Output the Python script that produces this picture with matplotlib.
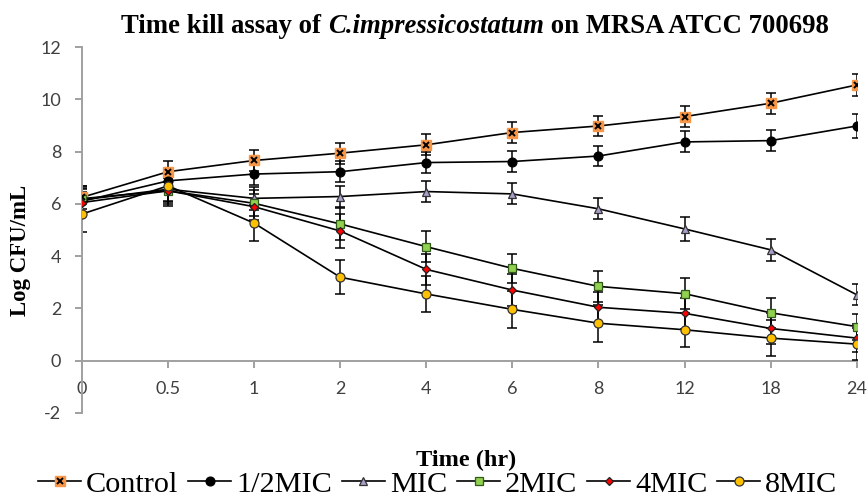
import matplotlib
matplotlib.use('Agg')
import matplotlib.pyplot as plt
from matplotlib.legend_handler import HandlerTuple

plt.rcParams['axes.unicode_minus'] = False

# 数据
time_labels = ['0', '0.5', '1', '2', '4', '6', '8', '12', '18', '24']

control = [6.25, 7.23, 7.66, 7.94, 8.26, 8.73, 8.98, 9.34, 9.85, 10.55]
half_mic = [6.10, 6.88, 7.14, 7.23, 7.58, 7.62, 7.83, 8.37, 8.42, 8.98]
mic = [6.15, 6.56, 6.21, 6.28, 6.47, 6.38, 5.81, 5.04, 4.24, 2.52]
mic2 = [6.20, 6.50, 6.02, 5.23, 4.36, 3.53, 2.84, 2.56, 1.83, 1.30]
mic4 = [6.05, 6.50, 5.89, 4.96, 3.49, 2.70, 2.04, 1.81, 1.23, 0.86]
mic8 = [5.61, 6.69, 5.26, 3.19, 2.55, 1.96, 1.43, 1.18, 0.86, 0.63]

control_err = [0.45, 0.40, 0.40, 0.40, 0.40, 0.40, 0.40, 0.40, 0.40, 0.43]
half_mic_err = [0.45, 0.40, 0.40, 0.40, 0.40, 0.40, 0.40, 0.40, 0.40, 0.45]
mic_err = [0.45, 0.50, 0.45, 0.40, 0.40, 0.40, 0.40, 0.45, 0.42, 0.40]
mic2_err = [0.50, 0.60, 0.50, 0.60, 0.60, 0.55, 0.60, 0.60, 0.57, 0.50]
mic4_err = [0.40, 0.50, 0.50, 0.65, 0.60, 0.60, 0.60, 0.60, 0.60, 0.55]
mic8_err = [0.67, 0.60, 0.70, 0.65, 0.70, 0.70, 0.70, 0.65, 0.68, 0.60]

serif = ['Liberation Serif', 'DejaVu Serif']
axis_grey = '#a0a0a0'

fig = plt.figure(figsize=(8.67, 5.01), dpi=100)
ax = fig.add_axes([0.0946, 0.176, 0.8935, 0.730])
x = list(range(len(time_labels)))

err_kw = dict(ecolor='black', elinewidth=1.1, capsize=3.6, capthick=1.1)
line_kw = dict(color='black', linewidth=1.2)

# Control: 橙色方块 + 黑色 x
ax.errorbar(x, control, yerr=control_err, fmt='none', zorder=2, **err_kw)
h_ctrl_sq, = ax.plot(x, control, marker='s', markersize=7, markerfacecolor='#f79646',
                     markeredgecolor='#f79646', zorder=3, **line_kw)
h_ctrl_x, = ax.plot(x, control, linestyle='none', marker='x', markersize=4.5,
                    markeredgecolor='black', markeredgewidth=1.4, zorder=4)

series = [
    (half_mic, half_mic_err, 'o', 6.4, 'black', 'black'),
    (mic, mic_err, '^', 6.0, '#a99dc9', '#333333'),
    (mic2, mic2_err, 's', 6.2, '#92d050', '#2f5a1a'),
    (mic4, mic4_err, 'D', 4.2, '#ff0000', '#222222'),
    (mic8, mic8_err, 'o', 6.5, '#ffc000', '#333333'),
]
handles = [(h_ctrl_sq, h_ctrl_x)]
for vals, errs, mk, ms, fc, ec in series:
    ax.errorbar(x, vals, yerr=errs, fmt='none', zorder=2, **err_kw)
    h, = ax.plot(x, vals, marker=mk, markersize=ms, markerfacecolor=fc,
                 markeredgecolor=ec, markeredgewidth=0.9, zorder=3, **line_kw)
    handles.append(h)

ax.set_xlim(0, len(time_labels) - 1)
ax.set_ylim(-2, 12)
ax.set_yticks(range(-2, 13, 2))
ax.set_xticks(x)
ax.set_xticklabels(time_labels)

for s in ['top', 'right']:
    ax.spines[s].set_visible(False)
ax.spines['bottom'].set_position(('data', 0))
ax.spines['bottom'].set_color(axis_grey)
ax.spines['left'].set_color(axis_grey)
ax.spines['bottom'].set_linewidth(1.4)
ax.spines['left'].set_linewidth(1.4)
ax.spines['bottom'].set_zorder(1)

ax.tick_params(axis='x', direction='out', length=5, width=1.4, color=axis_grey, pad=10,
               labelsize=13, labelcolor='#404040')
ax.tick_params(axis='y', direction='out', length=5, width=1.4, color=axis_grey, pad=10,
               labelsize=13, labelcolor='#404040')
for lab in ax.get_xticklabels() + ax.get_yticklabels():
    lab.set_family(['Lato', 'DejaVu Sans'])

# 标题：分三段，中间斜体
title_parts = [('Time kill assay of ', 'normal'), ('C.impressicostatum', 'italic'),
               (' on MRSA ATCC 700698', 'normal')]
title_texts = [fig.text(0, 0.948, t, ha='left', va='center', fontsize=19.3, fontweight='bold',
                        style=st, family=serif) for t, st in title_parts]
fig.canvas.draw()
renderer = fig.canvas.get_renderer()
widths = [t.get_window_extent(renderer).width / fig.bbox.width for t in title_texts]
cx = 0.548
xpos = cx - sum(widths) / 2
for t, w in zip(title_texts, widths):
    t.set_x(xpos)
    xpos += w

fig.text(0.024, 0.50, 'Log CFU/mL', rotation=90, ha='center', va='center',
         fontsize=16.5, fontweight='bold', family=serif)
fig.text(0.538, 0.08, 'Time (hr)', ha='center', va='center',
         fontsize=17.5, fontweight='bold', family=serif)

labels = ['Control', '1/2MIC', 'MIC', '2MIC', '4MIC', '8MIC']
fig.legend(handles, labels, loc='lower center', bbox_to_anchor=(0.505, 0.006), ncol=6,
           frameon=False, handlelength=1.42, handletextpad=0.16, columnspacing=0.33,
           borderpad=0.0, borderaxespad=0.0, prop={'family': serif, 'size': 21.8},
           handler_map={tuple: HandlerTuple(ndivide=1)})

fig.savefig('out.png', dpi=100)
